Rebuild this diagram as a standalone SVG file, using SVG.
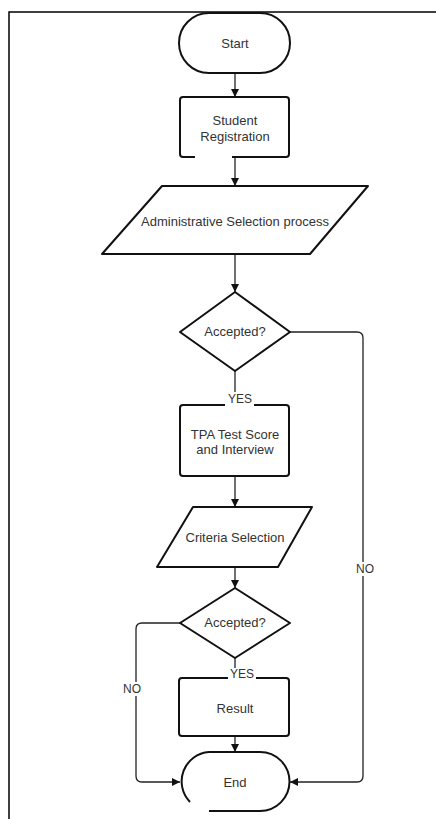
<svg xmlns="http://www.w3.org/2000/svg" width="436" height="819" viewBox="0 0 436 819">
<defs>
<style>
.shape{fill:#ffffff;stroke:#111111;stroke-width:2;stroke-linejoin:round}
.open{fill:none;stroke:#111111;stroke-width:2;stroke-linecap:butt}
.conn{fill:none;stroke:#222222;stroke-width:1.3;stroke-linejoin:round}
.lbl{font-family:"Liberation Sans",Arial,sans-serif;font-size:13px;fill:#333333;text-anchor:middle;dominant-baseline:central}
.el{font-family:"Liberation Sans",Arial,sans-serif;font-size:12px;fill:#333333;text-anchor:middle;dominant-baseline:central}
.bg{fill:#ffffff;stroke:none}
.frame{fill:none;stroke:#000000;stroke-width:1.5}
</style>
<marker id="arr" viewBox="0 0 10 10" refX="10" refY="5" markerWidth="8" markerHeight="8" markerUnits="userSpaceOnUse" orient="auto">
<path d="M0,0 L10,5 L0,10 z" fill="#111111"/>
</marker>
</defs>
<rect width="436" height="819" fill="#ffffff"/>
<path class="frame" d="M9,819 L9,12 L436,12"/>

<g id="connectors">
<path class="conn" d="M235,73 L235,97" marker-end="url(#arr)"/>
<path class="conn" d="M235,157 L235,186" marker-end="url(#arr)"/>
<path class="conn" d="M235,254 L235,292" marker-end="url(#arr)"/>
<path class="conn" d="M235,371 L235,405"/>
<path class="conn" d="M235,476 L235,507" marker-end="url(#arr)"/>
<path class="conn" d="M235,567 L235,588" marker-end="url(#arr)"/>
<path class="conn" d="M235,658 L235,686" marker-end="url(#arr)"/>
<path class="conn" d="M235,736 L235,752" marker-end="url(#arr)"/>
<path class="conn" d="M290,332 L357,332 Q363,332 363,338 L363,776 Q363,782 357,782 L290,782" marker-end="url(#arr)"/>
<path class="conn" d="M180,623 L142,623 Q136,623 136,629 L136,776 Q136,782 142,782 L180,782" marker-end="url(#arr)"/>
</g>

<g id="start">
<rect class="shape" x="179" y="13" width="111" height="60" rx="30" ry="30"/>
<text class="lbl" x="235" y="43">Start</text>
</g>

<g id="registration">
<path class="open" d="M195,157 L183,157 Q180,157 180,154 L180,100 Q180,97 183,97 L286,97 Q289,97 289,100 L289,154 Q289,157 286,157 L232,157"/>
<text class="lbl" x="235" y="120">Student</text>
<text class="lbl" x="235" y="136">Registration</text>
</g>

<g id="admin">
<path class="shape" d="M162,186 L368,186 L310,254 L102,254 Z"/>
<text class="lbl" x="235" y="221">Administrative Selection process</text>
</g>

<g id="decision1">
<path class="shape" d="M235,292 L290,332 L235,371 L180,332 Z"/>
<text class="lbl" x="235" y="331">Accepted?</text>
</g>

<g id="tpa">
<rect class="shape" x="180" y="405" width="109" height="71" rx="3" ry="3"/>
<text class="lbl" x="235" y="434">TPA Test Score</text>
<text class="lbl" x="235" y="449">and Interview</text>
</g>

<g id="criteria">
<path class="shape" d="M193,507 L312,507 L278,567 L157,567 Z"/>
<text class="lbl" x="235" y="537">Criteria Selection</text>
</g>

<g id="decision2">
<path class="shape" d="M235,588 L290,623 L235,658 L180,623 Z"/>
<text class="lbl" x="235" y="622">Accepted?</text>
</g>

<g id="result">
<rect class="shape" x="179" y="678" width="110" height="58" rx="3" ry="3"/>
<text class="lbl" x="235" y="708">Result</text>
</g>

<g id="end">
<path class="open" d="M190,802 A29.5,29.5 0 0 1 209,752 L260,752 A29.5,29.5 0 0 1 260,811 L209,811"/>
<text class="lbl" x="235" y="782">End</text>
</g>

<g id="edge-labels">
<rect class="bg" x="225" y="392" width="29" height="14"/>
<text class="el" x="240" y="399">YES</text>
<rect class="bg" x="228" y="668" width="28" height="12"/>
<text class="el" x="242" y="674">YES</text>
<rect class="bg" x="354" y="562" width="22" height="14"/>
<text class="el" x="365" y="569">NO</text>
<rect class="bg" x="121" y="682" width="22" height="14"/>
<text class="el" x="132" y="689">NO</text>
</g>
</svg>
